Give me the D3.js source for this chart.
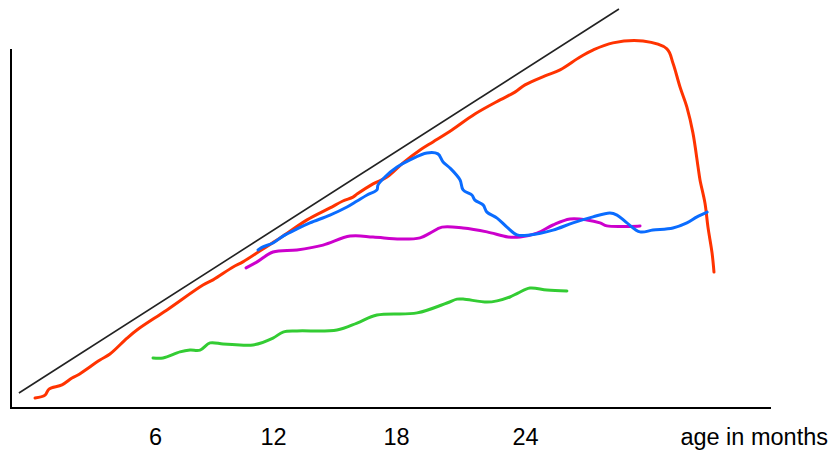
<!DOCTYPE html>
<html lang="en">
<head>
    <meta charset="UTF-8" />
    <title>Development by age</title>
    <script src="https://d3js.org/d3.v7.min.js"></script>
    <style>
        body { margin: 0; background: #fff; }
        svg { display: block; font-family: "Liberation Sans", Arial, sans-serif; }
    </style>
</head>
<body>
    <div id="viz"></div>
    <script>
        // --- Data (x = age in months, y = arbitrary level) ---
        const tickMonths = [6, 12, 18, 24];
        const xLabel = "age in months";

        const diagonal = [[-0.92, 5], [28.37, 133]];

        const redMonths = [-0.10, 0.41, 0.61, 1.27, 1.78, 2.08, 3.20, 3.71, 4.58, 5.08, 6.61, 8.44, 8.95, 9.97, 10.47, 11.49, 12.49, 13.66, 14.78, 15.41, 15.90, 16.10, 16.88, 17.56, 18.33, 19.12, 19.72, 20.60, 21.67, 22.84, 23.53, 24.0, 24.93, 25.63, 26.56, 27.16, 28.09, 29.49, 30.60, 30.88, 31.21, 31.53, 31.81, 32.05, 32.14, 32.37, 32.51, 32.70, 32.79];
        const redValues = [3.3, 4.3, 6.3, 7.7, 10, 11, 16, 18, 23.3, 26, 32.7, 41, 42.7, 47, 48.7, 53, 57.3, 62.7, 66.7, 69, 70.3, 71.3, 74.7, 77, 81.7, 86, 88.7, 92.7, 98, 102.7, 105.3, 107.7, 110.7, 112.7, 117, 119.3, 121.7, 122.3, 119.7, 115, 107, 100.3, 91.7, 80.3, 76, 68.3, 60.3, 51.7, 45.3];

        const blueMonths = [11.24, 11.49, 12.0, 12.49, 13.17, 13.80, 14.78, 15.61, 16.10, 16.59, 17.07, 17.12, 17.46, 18.05, 18.65, 19.44, 19.95, 20.19, 20.51, 20.98, 21.12, 21.53, 21.67, 22.05, 22.23, 22.70, 23.16, 23.63, 24.23, 25.30, 26.23, 27.16, 27.95, 28.28, 28.74, 29.35, 29.95, 30.88, 31.53, 32.0, 32.47];
        const blueValues = [52.7, 53.7, 55, 57.3, 59.7, 61.7, 64.3, 67, 69, 71, 72.7, 74.3, 77, 80.3, 82.7, 85, 84.7, 82, 80, 76, 72.7, 71, 69.3, 67.7, 65.3, 63.3, 60.3, 57.7, 57.7, 59.3, 61.7, 63.7, 65, 64.3, 61.7, 58.7, 59.3, 60, 61.7, 63.7, 65.3];

        const magentaMonths = [10.63, 11.19, 12.0, 13.17, 14.44, 15.76, 16.88, 18.19, 19.12, 19.58, 20.14, 21.12, 22.23, 23.21, 23.77, 24.56, 25.30, 26.09, 26.88, 27.49, 27.81, 29.35];
        const magentaValues = [46.7, 48.7, 52, 52.7, 54.3, 57.3, 57, 56.3, 56.7, 58.3, 60.3, 60, 58.7, 57, 57, 58.3, 61, 63, 62.7, 61.7, 60.7, 60.7];

        const greenMonths = [5.90, 6.41, 7.27, 7.78, 8.29, 8.80, 9.46, 10.32, 10.98, 12.0, 12.49, 13.17, 15.12, 16.10, 17.07, 18.98, 20.37, 20.84, 21.12, 22.23, 22.70, 23.30, 23.67, 24.23, 25.02, 25.95];
        const greenValues = [16.7, 16.7, 18.7, 19.3, 19.3, 21.7, 21.3, 21, 21, 23.3, 25.3, 25.7, 26, 28.3, 31, 31.7, 35, 36.3, 36.3, 35.3, 35.7, 37, 38.3, 40, 39.3, 39];

        // --- Layout ---
        const width = 833, height = 450;
        const margin = { left: 11, right: 771, top: 49, bottom: 408 };

        const svg = d3.select("#viz").append("svg")
            .attr("width", width)
            .attr("height", height);

        // tick spacing in the original is slightly uneven, so use a piecewise scale
        const x = d3.scaleLinear()
            .domain(tickMonths)
            .range([155, 273, 396, 525]);
        const y = d3.scaleLinear()
            .domain([0, 120])
            .range([margin.bottom, margin.top - 1]);

        // axes frame
        svg.append("line")
            .attr("x1", margin.left).attr("x2", margin.left)
            .attr("y1", margin.top).attr("y2", margin.bottom + 1)
            .attr("stroke", "#000").attr("stroke-width", 2);
        svg.append("line")
            .attr("x1", margin.left - 1).attr("x2", margin.right)
            .attr("y1", margin.bottom).attr("y2", margin.bottom)
            .attr("stroke", "#000").attr("stroke-width", 2);

        const xAxis = svg.append("g")
            .attr("transform", `translate(0,${margin.bottom})`)
            .call(d3.axisBottom(x).tickValues(tickMonths).tickSize(0).tickPadding(20))
            .call(g => g.select(".domain").remove());
        xAxis.selectAll("text")
            .attr("font-family", "Liberation Sans, Arial, sans-serif")
            .attr("font-size", 23.5)
            .attr("fill", "#000");

        svg.append("text")
            .attr("x", 828)
            .attr("y", 445)
            .attr("text-anchor", "end")
            .attr("font-size", 23.5)
            .text(xLabel);

        // reference diagonal
        svg.append("line")
            .attr("x1", x(diagonal[0][0])).attr("y1", y(diagonal[0][1]))
            .attr("x2", x(diagonal[1][0])).attr("y2", y(diagonal[1][1]))
            .attr("stroke", "#222").attr("stroke-width", 1.6);

        const line = d3.line()
            .x(d => x(d[0]))
            .y(d => y(d[1]))
            .curve(d3.curveCatmullRom.alpha(0.5));

        const series = [
            { months: greenMonths, values: greenValues, color: "#33cc33" },
            { months: magentaMonths, values: magentaValues, color: "#cc00cc" },
            { months: redMonths, values: redValues, color: "#ff3300" },
            { months: blueMonths, values: blueValues, color: "#0a6cff" }
        ];

        svg.selectAll("path.series")
            .data(series)
            .enter()
            .append("path")
            .attr("class", "series")
            .attr("fill", "none")
            .attr("stroke", d => d.color)
            .attr("stroke-width", 3)
            .attr("stroke-linejoin", "round")
            .attr("stroke-linecap", "round")
            .attr("d", d => line(d.months.map((m, i) => [m, d.values[i]])));
    </script>
</body>
</html>
